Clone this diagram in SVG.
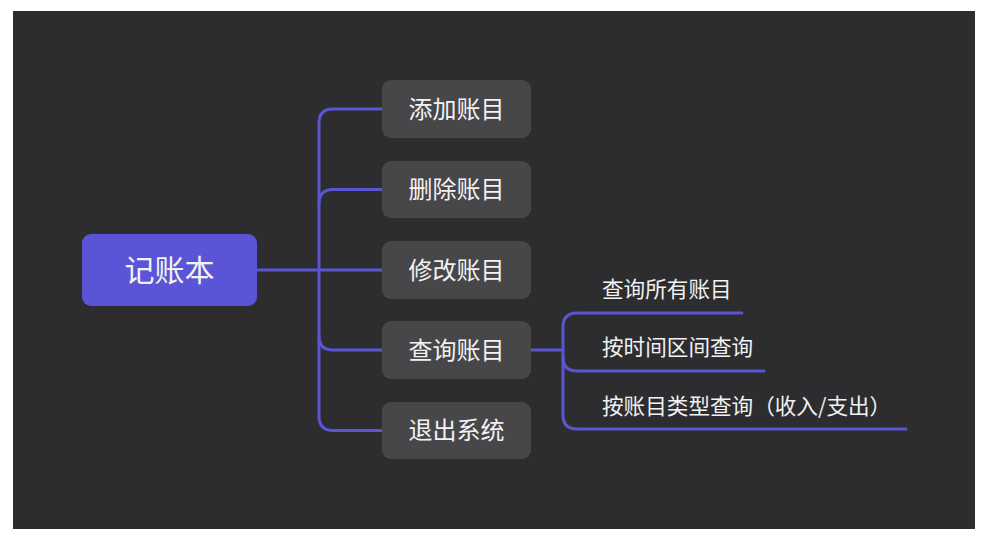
<svg xmlns="http://www.w3.org/2000/svg" width="989" height="556" viewBox="0 0 989 556">
<style>
.bg{fill:#2d2d2f}
.node rect{fill:#474649}
.node text{fill:#f2f2f2;font-family:"Noto Sans CJK SC","Noto Sans",sans-serif;font-size:24px;text-anchor:middle;dominant-baseline:central}
.root rect{fill:#5a55d6}
.root text{font-size:30px}
.sub text{fill:#f2f2f2;font-family:"Noto Sans CJK SC","Noto Sans",sans-serif;font-size:21.6px;dominant-baseline:central}
.conn path{fill:none;stroke:#5b55d2;stroke-width:3;stroke-linecap:round}
</style>
<rect x="0" y="0" width="989" height="556" fill="#ffffff"/>
<rect class="bg" x="13" y="11" width="962" height="518"/>
<g class="conn" id="connectors">
<path d="M257 270 H382"/>
<path d="M382 109 H333 Q319 109 319 123 V416 Q319 430.5 333 430.5 H382"/>
<path d="M382 189.5 H333 Q319 189.5 319 203.5"/>
<path d="M382 350 H333 Q319 350 319 336"/>
<path d="M531 350 H563"/>
<path d="M742 313 H577 Q563 313 563 327 V415 Q563 429 577 429 H906"/>
<path d="M764 371 H577 Q563 371 563 357"/>
</g>
<g class="node root" id="root"><rect x="82" y="234" width="175" height="72" rx="9"/><text x="169.5" y="267.5">记账本</text></g>
<g class="node" id="n1"><rect x="382" y="80" width="149" height="58" rx="9"/><text x="456.5" y="107">添加账目</text></g>
<g class="node" id="n2"><rect x="382" y="161" width="149" height="57" rx="9"/><text x="456.5" y="187.5">删除账目</text></g>
<g class="node" id="n3"><rect x="382" y="241" width="149" height="58" rx="9"/><text x="456.5" y="268">修改账目</text></g>
<g class="node" id="n4"><rect x="382" y="321" width="149" height="58" rx="9"/><text x="456.5" y="348">查询账目</text></g>
<g class="node" id="n5"><rect x="382" y="402" width="149" height="57" rx="9"/><text x="456.5" y="428.5">退出系统</text></g>
<g class="sub" id="s1"><text x="602" y="287">查询所有账目</text></g>
<g class="sub" id="s2"><text x="602" y="345">按时间区间查询</text></g>
<g class="sub" id="s3"><text x="602" y="404">按账目类型查询（收入/支出）</text></g>
</svg>
